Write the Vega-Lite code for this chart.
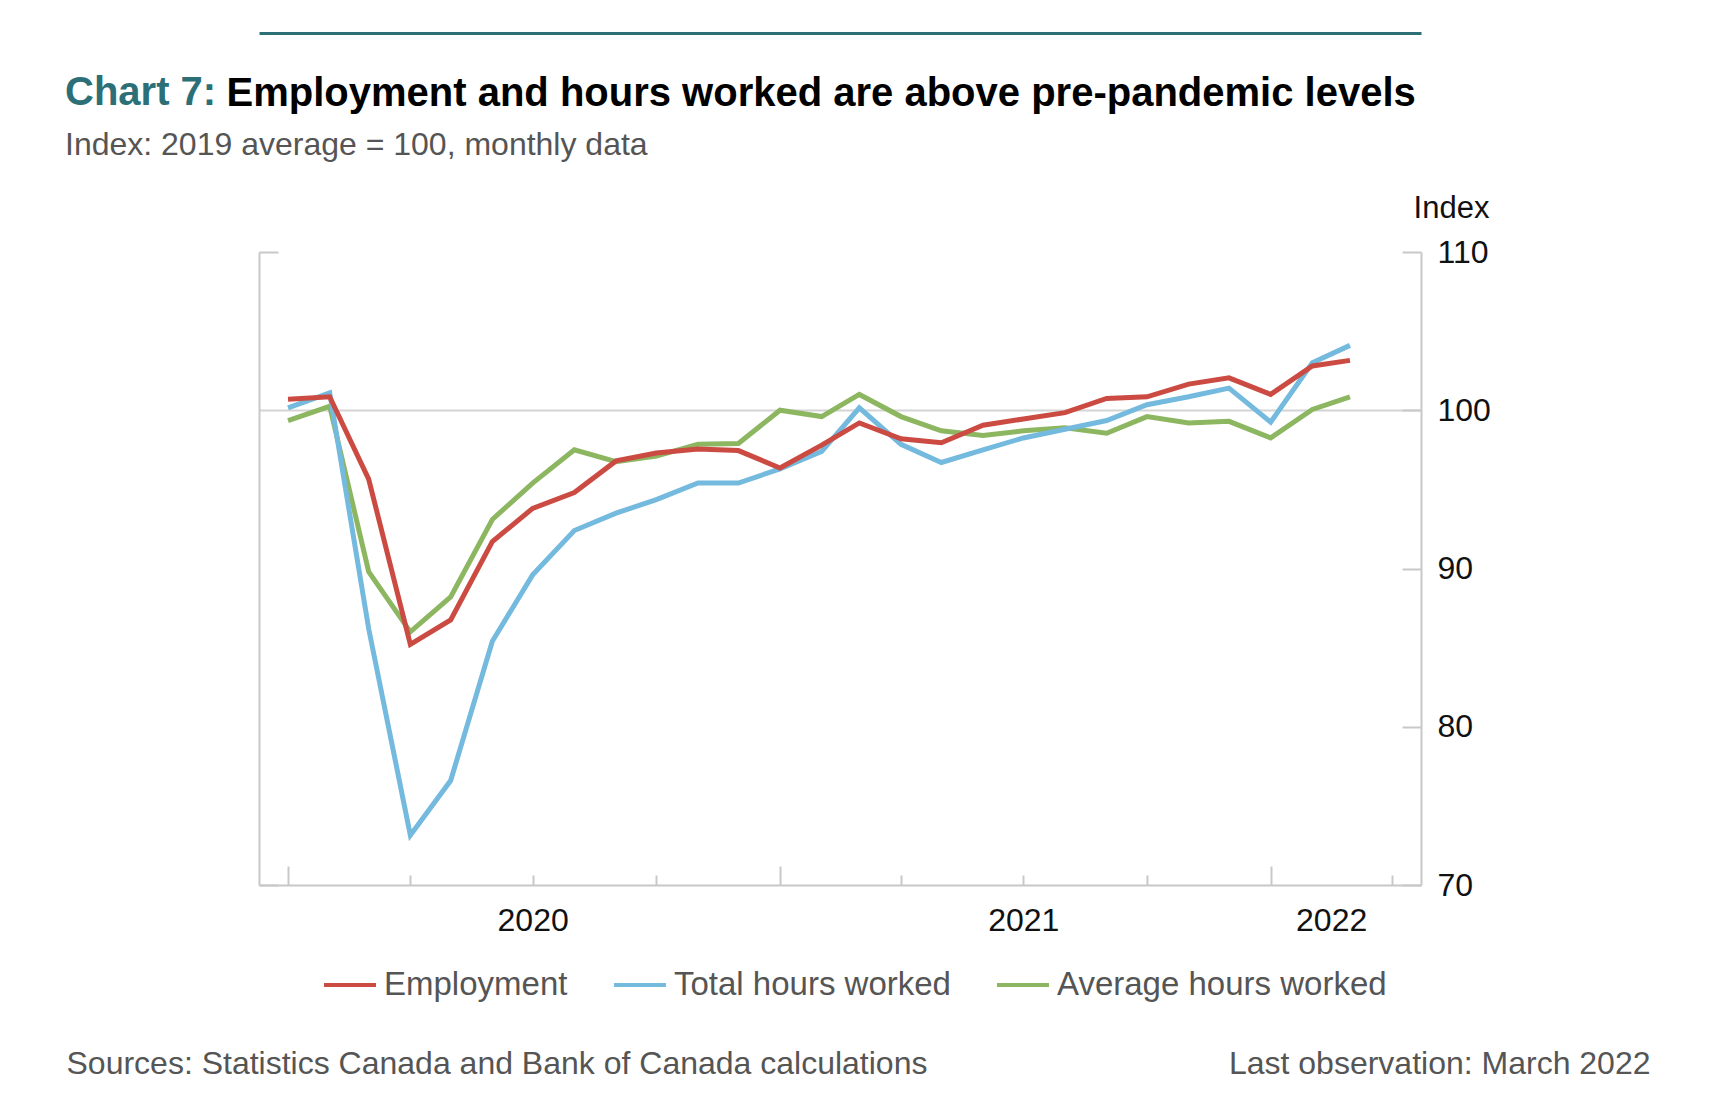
{
  "$schema": "https://vega.github.io/schema/vega-lite/v6.json",
  "width": 1162,
  "height": 633,
  "autosize": "none",
  "padding": {"left": 259, "top": 252, "right": 290, "bottom": 208},
  "background": "white",
  "config": {"font": "Liberation Sans", "view": {"stroke": null}},
  "title": {
    "text": "Chart 7:",
    "subtitle": "Index: 2019 average = 100, monthly data",
    "anchor": "start",
    "frame": "group",
    "dx": -194,
    "dy": 127.5,
    "offset": 0,
    "fontSize": 40,
    "fontWeight": "bold",
    "color": "#2d6f76",
    "subtitleFontSize": 32,
    "subtitleColor": "#555555",
    "subtitleFontWeight": "normal",
    "subtitlePadding": 16.5
  },
  "data": {
    "values": [
      {"date": "2020-01-01", "series": "Employment", "value": 100.7},
      {"date": "2020-02-01", "series": "Employment", "value": 100.85},
      {"date": "2020-03-01", "series": "Employment", "value": 95.65},
      {"date": "2020-04-01", "series": "Employment", "value": 85.2},
      {"date": "2020-05-01", "series": "Employment", "value": 86.75},
      {"date": "2020-06-01", "series": "Employment", "value": 91.7},
      {"date": "2020-07-01", "series": "Employment", "value": 93.8},
      {"date": "2020-08-01", "series": "Employment", "value": 94.8},
      {"date": "2020-09-01", "series": "Employment", "value": 96.8},
      {"date": "2020-10-01", "series": "Employment", "value": 97.3},
      {"date": "2020-11-01", "series": "Employment", "value": 97.55},
      {"date": "2020-12-01", "series": "Employment", "value": 97.45},
      {"date": "2021-01-01", "series": "Employment", "value": 96.35},
      {"date": "2021-02-01", "series": "Employment", "value": 97.8},
      {"date": "2021-03-01", "series": "Employment", "value": 99.2},
      {"date": "2021-04-01", "series": "Employment", "value": 98.2},
      {"date": "2021-05-01", "series": "Employment", "value": 97.95},
      {"date": "2021-06-01", "series": "Employment", "value": 99.05},
      {"date": "2021-07-01", "series": "Employment", "value": 99.45},
      {"date": "2021-08-01", "series": "Employment", "value": 99.85},
      {"date": "2021-09-01", "series": "Employment", "value": 100.75},
      {"date": "2021-10-01", "series": "Employment", "value": 100.85},
      {"date": "2021-11-01", "series": "Employment", "value": 101.65},
      {"date": "2021-12-01", "series": "Employment", "value": 102.05},
      {"date": "2022-01-01", "series": "Employment", "value": 101.0},
      {"date": "2022-02-01", "series": "Employment", "value": 102.8},
      {"date": "2022-03-01", "series": "Employment", "value": 103.15},
      {"date": "2020-01-01", "series": "Total hours worked", "value": 100.15},
      {"date": "2020-02-01", "series": "Total hours worked", "value": 101.1},
      {"date": "2020-03-01", "series": "Total hours worked", "value": 86.2},
      {"date": "2020-04-01", "series": "Total hours worked", "value": 73.15},
      {"date": "2020-05-01", "series": "Total hours worked", "value": 76.6},
      {"date": "2020-06-01", "series": "Total hours worked", "value": 85.4},
      {"date": "2020-07-01", "series": "Total hours worked", "value": 89.6},
      {"date": "2020-08-01", "series": "Total hours worked", "value": 92.4},
      {"date": "2020-09-01", "series": "Total hours worked", "value": 93.5},
      {"date": "2020-10-01", "series": "Total hours worked", "value": 94.35},
      {"date": "2020-11-01", "series": "Total hours worked", "value": 95.4},
      {"date": "2020-12-01", "series": "Total hours worked", "value": 95.4},
      {"date": "2021-01-01", "series": "Total hours worked", "value": 96.3},
      {"date": "2021-02-01", "series": "Total hours worked", "value": 97.4},
      {"date": "2021-03-01", "series": "Total hours worked", "value": 100.15},
      {"date": "2021-04-01", "series": "Total hours worked", "value": 97.85},
      {"date": "2021-05-01", "series": "Total hours worked", "value": 96.7},
      {"date": "2021-06-01", "series": "Total hours worked", "value": 97.5},
      {"date": "2021-07-01", "series": "Total hours worked", "value": 98.25},
      {"date": "2021-08-01", "series": "Total hours worked", "value": 98.8},
      {"date": "2021-09-01", "series": "Total hours worked", "value": 99.35},
      {"date": "2021-10-01", "series": "Total hours worked", "value": 100.35},
      {"date": "2021-11-01", "series": "Total hours worked", "value": 100.85},
      {"date": "2021-12-01", "series": "Total hours worked", "value": 101.4},
      {"date": "2022-01-01", "series": "Total hours worked", "value": 99.25},
      {"date": "2022-02-01", "series": "Total hours worked", "value": 103.0},
      {"date": "2022-03-01", "series": "Total hours worked", "value": 104.1},
      {"date": "2020-01-01", "series": "Average hours worked", "value": 99.35},
      {"date": "2020-02-01", "series": "Average hours worked", "value": 100.25},
      {"date": "2020-03-01", "series": "Average hours worked", "value": 89.8},
      {"date": "2020-04-01", "series": "Average hours worked", "value": 86.0},
      {"date": "2020-05-01", "series": "Average hours worked", "value": 88.2},
      {"date": "2020-06-01", "series": "Average hours worked", "value": 93.1},
      {"date": "2020-07-01", "series": "Average hours worked", "value": 95.4},
      {"date": "2020-08-01", "series": "Average hours worked", "value": 97.5},
      {"date": "2020-09-01", "series": "Average hours worked", "value": 96.75},
      {"date": "2020-10-01", "series": "Average hours worked", "value": 97.1},
      {"date": "2020-11-01", "series": "Average hours worked", "value": 97.85},
      {"date": "2020-12-01", "series": "Average hours worked", "value": 97.9},
      {"date": "2021-01-01", "series": "Average hours worked", "value": 100.0},
      {"date": "2021-02-01", "series": "Average hours worked", "value": 99.6},
      {"date": "2021-03-01", "series": "Average hours worked", "value": 101.0},
      {"date": "2021-04-01", "series": "Average hours worked", "value": 99.6},
      {"date": "2021-05-01", "series": "Average hours worked", "value": 98.7},
      {"date": "2021-06-01", "series": "Average hours worked", "value": 98.4},
      {"date": "2021-07-01", "series": "Average hours worked", "value": 98.7},
      {"date": "2021-08-01", "series": "Average hours worked", "value": 98.9},
      {"date": "2021-09-01", "series": "Average hours worked", "value": 98.55},
      {"date": "2021-10-01", "series": "Average hours worked", "value": 99.6},
      {"date": "2021-11-01", "series": "Average hours worked", "value": 99.2},
      {"date": "2021-12-01", "series": "Average hours worked", "value": 99.3},
      {"date": "2022-01-01", "series": "Average hours worked", "value": 98.25},
      {"date": "2022-02-01", "series": "Average hours worked", "value": 100.05},
      {"date": "2022-03-01", "series": "Average hours worked", "value": 100.85}
    ]
  },
  "layer": [
    {
      "transform": [{"filter": "datum.series === 'Average hours worked'"}],
      "mark": {"type": "line", "strokeWidth": 5},
      "encoding": {
        "x": {
          "field": "date", "type": "temporal",
          "scale": {"type": "utc", "domain": [{"year": 2019, "month": 12, "date": 10, "hours": 10, "utc": true}, {"year": 2022, "month": 4, "date": 22, "hours": 20, "utc": true}]},
          "axis": {
            "orient": "bottom",
            "values": [
              {"year": 2020, "month": 1, "date": 1, "utc": true},
              {"year": 2020, "month": 4, "date": 1, "utc": true},
              {"year": 2020, "month": 7, "date": 1, "utc": true},
              {"year": 2020, "month": 10, "date": 1, "utc": true},
              {"year": 2021, "month": 1, "date": 1, "utc": true},
              {"year": 2021, "month": 4, "date": 1, "utc": true},
              {"year": 2021, "month": 7, "date": 1, "utc": true},
              {"year": 2021, "month": 10, "date": 1, "utc": true},
              {"year": 2022, "month": 1, "date": 1, "utc": true},
              {"year": 2022, "month": 2, "date": 15, "utc": true},
              {"year": 2022, "month": 4, "date": 1, "utc": true}
            ],
            "labelExpr": "(utcmonth(datum.value) == 6 || (utcmonth(datum.value) == 1 && utcdate(datum.value) == 15)) ? utcFormat(datum.value, '%Y') : ''",
            "tickSize": {"condition": {"test": "utcmonth(datum.value) == 0", "value": -19}, "value": -10},
            "tickOpacity": {"condition": {"test": "utcdate(datum.value) == 15", "value": 0}, "value": 1},
            "tickColor": "#c8c8c8",
            "tickWidth": 2,
            "domainColor": "#c8c8c8",
            "domainWidth": 2,
            "grid": false,
            "labelFontSize": 32,
            "labelColor": "#111111",
            "labelBaseline": "alphabetic",
            "labelPadding": 55,
            "labelFlush": false,
            "labelOverlap": false,
            "labelBound": false,
            "title": "Sources: Statistics Canada and Bank of Canada calculations",
            "titleFontSize": 32,
            "titleFontWeight": "normal",
            "titleColor": "#555555",
            "titleX": -193,
            "titleY": 188,
            "titleAlign": "left",
            "titleAnchor": "start",
            "titleBaseline": "alphabetic"
          }
        },
        "y": {
          "field": "value", "type": "quantitative",
          "scale": {"domain": [70, 110], "nice": false, "zero": false},
          "axis": {
            "orient": "right",
            "values": [70, 80, 90, 100, 110],
            "tickSize": -19,
            "tickColor": "#c8c8c8",
            "tickWidth": 2,
            "domainColor": "#c8c8c8",
            "domainWidth": 2,
            "grid": true,
            "gridColor": "#d4d4d4",
            "gridWidth": 2,
            "gridOpacity": {"condition": {"test": "datum.value == 100", "value": 1}, "value": 0},
            "labelFontSize": 32,
            "labelColor": "#111111",
            "labelPadding": 35,
            "labelFlush": false,
            "labelOverlap": false,
            "labelBound": false,
            "title": "Index",
            "titleAngle": 0,
            "titleX": 30,
            "titleY": -35,
            "titleAlign": "center",
            "titleBaseline": "alphabetic",
            "titleFontSize": 31,
            "titleFontWeight": "normal",
            "titleColor": "#111111"
          }
        },
        "color": {
          "field": "series", "type": "nominal",
          "scale": {"domain": ["Employment", "Total hours worked", "Average hours worked"], "range": ["#cb4b43", "#74b9de", "#8db661"]},
          "legend": {
            "orient": "none",
            "legendX": 63,
            "legendY": 705,
            "direction": "horizontal",
            "title": null,
            "symbolType": "stroke",
            "symbolSize": 2700,
            "symbolStrokeWidth": 4,
            "labelFontSize": 33,
            "labelColor": "#555555",
            "labelOffset": 6,
            "labelLimit": 0,
            "columnPadding": 38,
            "padding": 0
          }
        }
      }
    },
    {
      "transform": [{"filter": "datum.series === 'Total hours worked'"}],
      "mark": {"type": "line", "strokeWidth": 5},
      "encoding": {
        "x": {
          "field": "date", "type": "temporal",
          "scale": {"type": "utc", "domain": [{"year": 2019, "month": 12, "date": 10, "hours": 10, "utc": true}, {"year": 2022, "month": 4, "date": 22, "hours": 20, "utc": true}]},
          "axis": {
            "orient": "top",
            "offset": 219,
            "domain": true,
            "domainColor": "#2d6f76",
            "domainWidth": 3,
            "ticks": false,
            "labels": false,
            "grid": false,
            "title": "Employment and hours worked are above pre-pandemic levels",
            "titleX": -33,
            "titleY": 72,
            "titleAlign": "left",
            "titleAnchor": "start",
            "titleBaseline": "alphabetic",
            "titleFontSize": 40,
            "titleFontWeight": "bold",
            "titleColor": "#000000"
          }
        },
        "y": {
          "field": "value", "type": "quantitative",
          "scale": {"domain": [70, 110], "nice": false, "zero": false},
          "axis": {
            "orient": "left",
            "values": [70, 110],
            "tickSize": -19,
            "tickColor": "#c8c8c8",
            "tickWidth": 2,
            "domainColor": "#c8c8c8",
            "domainWidth": 2,
            "labels": false,
            "grid": false,
            "title": "Last observation: March 2022",
            "titleAngle": 0,
            "titleX": 1391,
            "titleY": 821,
            "titleAlign": "right",
            "titleBaseline": "alphabetic",
            "titleFontSize": 32,
            "titleFontWeight": "normal",
            "titleColor": "#555555"
          }
        },
        "color": {
          "field": "series", "type": "nominal",
          "scale": {"domain": ["Employment", "Total hours worked", "Average hours worked"], "range": ["#cb4b43", "#74b9de", "#8db661"]}
        }
      }
    },
    {
      "transform": [{"filter": "datum.series === 'Employment'"}],
      "mark": {"type": "line", "strokeWidth": 5},
      "encoding": {
        "x": {
          "field": "date", "type": "temporal",
          "scale": {"type": "utc", "domain": [{"year": 2019, "month": 12, "date": 10, "hours": 10, "utc": true}, {"year": 2022, "month": 4, "date": 22, "hours": 20, "utc": true}]},
          "axis": null
        },
        "y": {
          "field": "value", "type": "quantitative",
          "scale": {"domain": [70, 110], "nice": false, "zero": false},
          "axis": null
        },
        "color": {
          "field": "series", "type": "nominal",
          "scale": {"domain": ["Employment", "Total hours worked", "Average hours worked"], "range": ["#cb4b43", "#74b9de", "#8db661"]}
        }
      }
    }
  ],
  "resolve": {"axis": {"x": "independent", "y": "independent"}}
}
